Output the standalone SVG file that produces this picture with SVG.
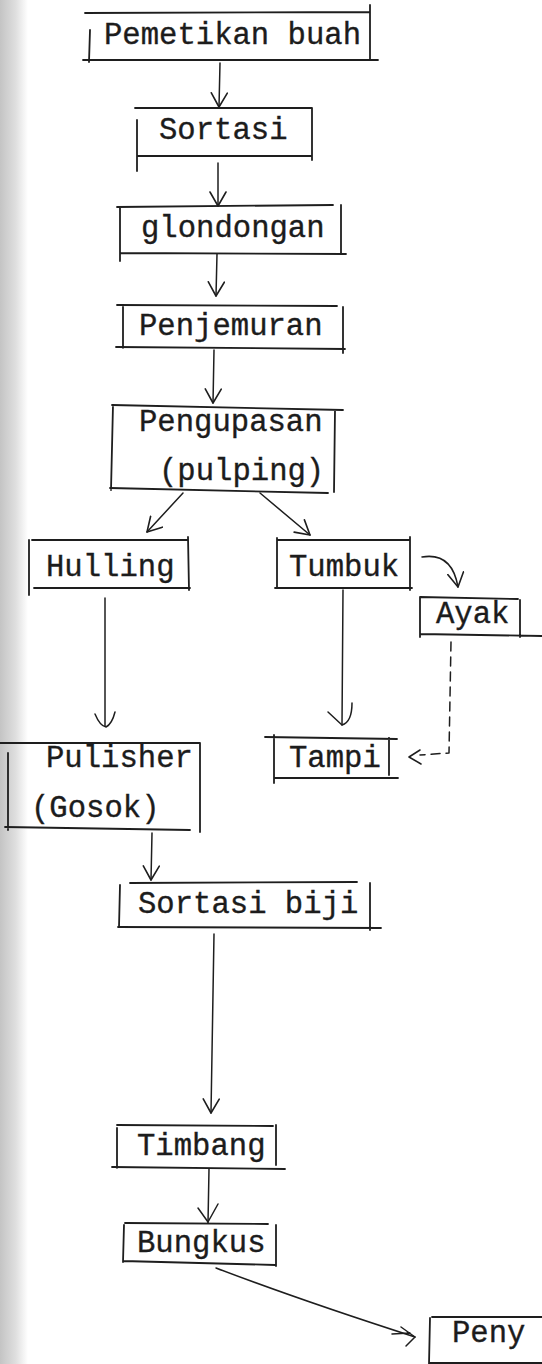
<svg xmlns="http://www.w3.org/2000/svg" width="542" height="1364" viewBox="0 0 542 1364">
<style>
.t{font-family:"Liberation Mono","DejaVu Sans Mono",monospace;font-size:30.6px;fill:#1c1c1c;stroke:#1c1c1c;stroke-width:0.35}
.b{fill:none;stroke:#1e1e1e;stroke-width:1.8;stroke-linecap:round}
.c{fill:none;stroke:#1e1e1e;stroke-width:1.5;stroke-linecap:round;stroke-linejoin:round}
.d{stroke-dasharray:9 6}
</style>
<defs>
<linearGradient id="scan" x1="0" y1="0" x2="1" y2="0">
<stop offset="0" stop-color="#c4c4c4"/>
<stop offset="0.55" stop-color="#dedede"/>
<stop offset="1" stop-color="#ffffff"/>
</linearGradient>
<marker id="ah" viewBox="0 0 16 18" refX="15" refY="9" markerWidth="16" markerHeight="18" markerUnits="userSpaceOnUse" orient="auto">
<path d="M1,1 L15,9 L1,17" fill="none" stroke="#1e1e1e" stroke-width="1.6" stroke-linecap="round" stroke-linejoin="round"/>
</marker>
</defs>
<rect width="542" height="1364" fill="#ffffff"/>
<rect x="0" y="0" width="28" height="1364" fill="url(#scan)"/>

<g id="connectors">
<path class="c" d="M220,63 L219,107" marker-end="url(#ah)"/>
<path class="c" d="M218,163 L218,206" marker-end="url(#ah)"/>
<path class="c" d="M217,254 L216,296" marker-end="url(#ah)"/>
<path class="c" d="M214,350 L213,403" marker-end="url(#ah)"/>
<path class="c" d="M183,493 L147,532" marker-end="url(#ah)"/>
<path class="c" d="M260,493 L310,535" marker-end="url(#ah)"/>
<path class="c" d="M422,557 Q452,552 458,587" marker-end="url(#ah)"/>
<path class="c" d="M105,598 L105,726"/>
<path class="c" d="M95,714 Q100,726 106,727 Q112,724 115,712"/>
<path class="c" d="M343,590 L342,725"/>
<path class="c" d="M328,712 L342,725 Q352,722 352,703"/>
<path class="c d" d="M451,642 L449,753 L420,755"/>
<path class="c" d="M420,750 L409,757 L421,764"/>
<path class="c" d="M152,833 L151,880" marker-end="url(#ah)"/>
<path class="c" d="M214,934 L211,1113" marker-end="url(#ah)"/>
<path class="c" d="M209,1169 L208,1223"/>
<path class="c" d="M198,1208 L208,1222 L218,1204"/>
<path class="c" d="M216,1268 Q300,1300 415,1337"/>
<path class="c" d="M392,1334 L410,1333 M401,1327 L415,1337 L406,1346"/>
</g>

<g id="n-pemetikan">
<path class="b" d="M85,13 L370,12 M370,5 L370,60 M83,60 L378,60 M90,30 L89,62"/>
<text class="t" x="104" y="44">Pemetikan buah</text>
</g>
<g id="n-sortasi">
<path class="b" d="M135,108 L312,108 M312,108 L312,160 M137,156 L312,156 M137,120 L137,171"/>
<text class="t" x="159" y="139">Sortasi</text>
</g>
<g id="n-glondongan">
<path class="b" d="M117,207 L333,205 M341,205 L341,254 M120,253 L346,254 M120,207 L120,261"/>
<text class="t" x="141" y="237">glondongan</text>
</g>
<g id="n-penjemuran">
<path class="b" d="M117,305 L337,306 M343,307 L343,353 M116,347 L345,349 M123,305 L123,348"/>
<text class="t" x="139" y="335">Penjemuran</text>
</g>
<g id="n-pengupasan">
<path class="b" d="M112,405 L343,410 M335,410 L334,492 M110,488 L328,493 M113,405 L111,490"/>
<text class="t" x="139" y="431">Pengupasan</text>
<text class="t" x="159" y="480">(pulping)</text>
</g>
<g id="n-hulling">
<path class="b" d="M32,540 L188,540 M188,537 L189,590 M34,588 L190,588 M29,540 L29,595"/>
<text class="t" x="46" y="576">Hulling</text>
</g>
<g id="n-tumbuk">
<path class="b" d="M277,540 L410,540 M410,537 L410,590 M275,588 L412,588 M277,538 L277,588"/>
<text class="t" x="289" y="576">Tumbuk</text>
</g>
<g id="n-ayak">
<path class="b" d="M420,597 L518,599 M520,600 L520,637 M420,634 L542,636 M420,597 L420,637"/>
<text class="t" x="436" y="623">Ayak</text>
</g>
<g id="n-tampi">
<path class="b" d="M265,737 L397,739 M274,735 L274,783 M389,738 L389,775 M275,778 L398,778"/>
<text class="t" x="289" y="767">Tampi</text>
</g>
<g id="n-pulisher">
<path class="b" d="M0,743 L200,743 M200,743 L200,832 M5,827 L190,830 M8,753 L8,830"/>
<text class="t" x="46" y="767">Pulisher</text>
<text class="t" x="31" y="817">(Gosok)</text>
</g>
<g id="n-sortasi-biji">
<path class="b" d="M130,883 L357,882 M370,883 L370,930 M118,927 L381,928 M120,885 L119,927"/>
<text class="t" x="138" y="913">Sortasi biji</text>
</g>
<g id="n-timbang">
<path class="b" d="M117,1125 L273,1126 M276,1125 L276,1165 M112,1167 L285,1169 M117,1128 L117,1168"/>
<text class="t" x="137" y="1155">Timbang</text>
</g>
<g id="n-bungkus">
<path class="b" d="M125,1223 L268,1224 M276,1225 L276,1266 M123,1261 L275,1265 M124,1225 L123,1262"/>
<text class="t" x="137" y="1252">Bungkus</text>
</g>
<g id="n-peny">
<path class="b" d="M432,1317 L542,1317 M430,1318 L429,1364 M430,1363 L542,1363"/>
<text class="t" x="452" y="1342">Peny</text>
</g>
</svg>
